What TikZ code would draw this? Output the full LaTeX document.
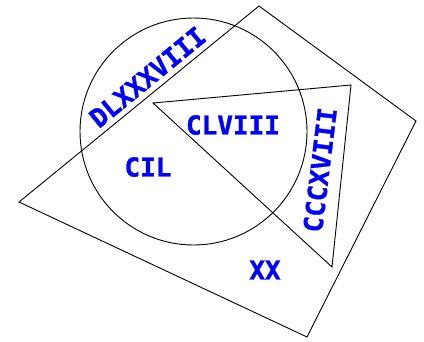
\documentclass[tikz,border=0pt]{standalone}
\usepackage{fontspec}
\newfontfamily\comicfont[FakeBold=1.2]{DejaVu Sans Mono Bold}
\usepackage{tikz}
\usetikzlibrary{calc}

\tikzset{numeral/.style={blue,font=\comicfont\fontsize{26}{26}\selectfont,inner sep=0pt}}

\begin{document}
\begin{tikzpicture}[x=1pt,y=-1pt,line width=0.9pt]
\useasboundingbox (0,0) rectangle (424,341);
% the four corners and the triangle
\coordinate (qa) at (259,6);
\coordinate (qb) at (416,121);
\coordinate (qc) at (307,337);
\coordinate (qd) at (19,202);
\coordinate (ta) at (153,103);
\coordinate (tb) at (351,85);
\coordinate (tc) at (332,267);
\draw (qa)--(qb)--(qc)--(qd)--cycle;
\draw (193.5,131.5) circle (113.5pt);
\draw (ta)--(tb)--(tc)--cycle;
\node[numeral,rotate=39.4] (dl) at (147.5,77) {DLXXXVIII};
\node[numeral] (clv) at (233,125) {CLVIII};
\node[numeral] (cil) at (148,167) {CIL};
\node[numeral,rotate=83] (ccc) at (320,170) {CCCXVIII};
\node[numeral] (xx) at (265,270) {XX};
\end{tikzpicture}
\end{document}
